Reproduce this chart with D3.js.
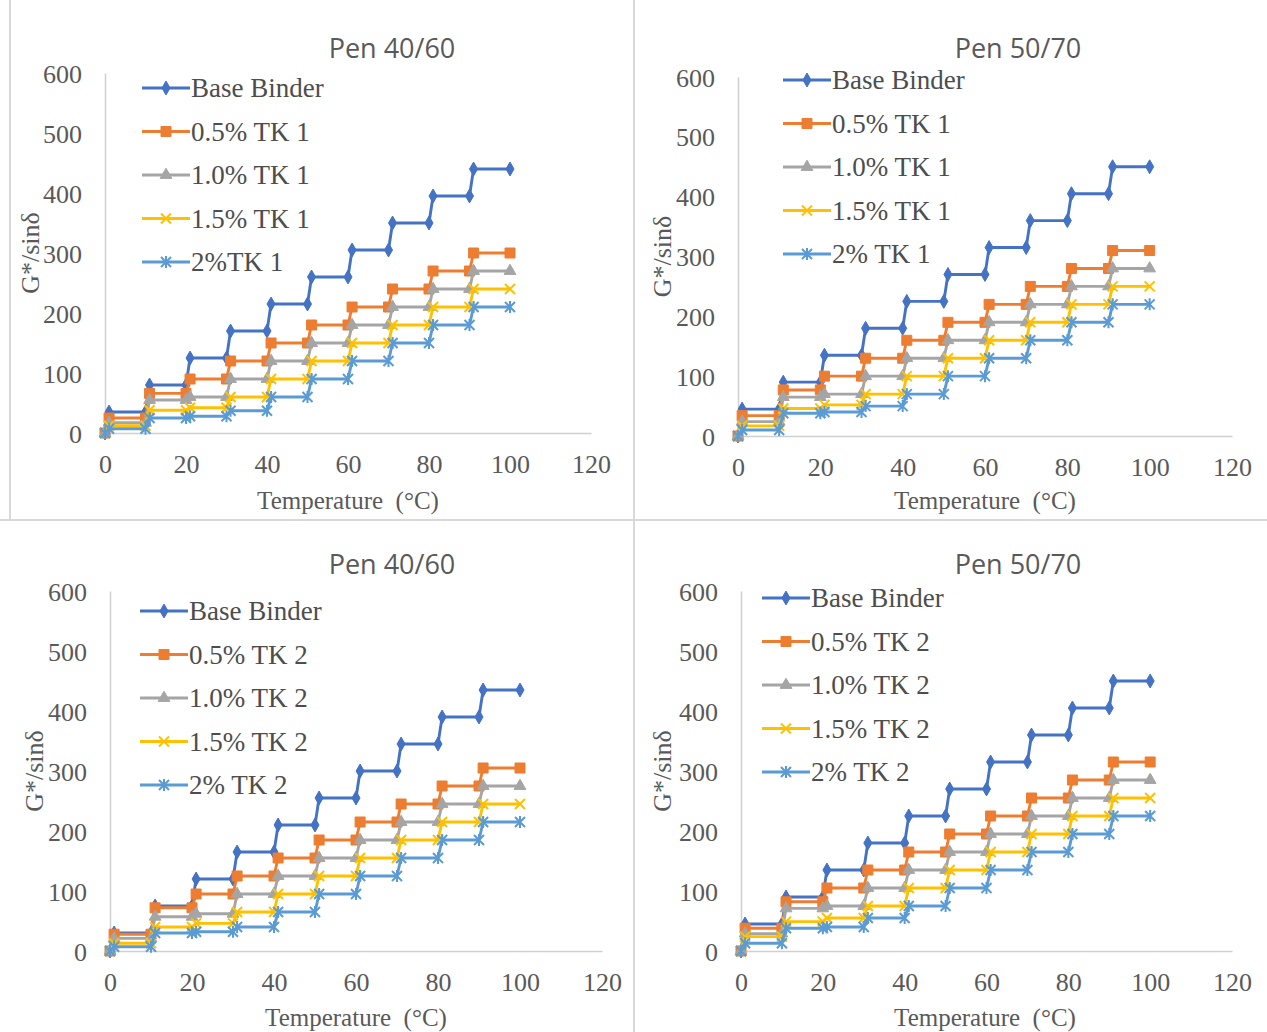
<!DOCTYPE html>
<html>
<head>
<meta charset="utf-8">
<script src="https://cdn.jsdelivr.net/npm/d3@7"></script>
<style>
  body { margin: 0; background: #fff; }
  svg { display: block; }
</style>
</head>
<body>
<svg id="chart" width="1267" height="1032"></svg>
<script>
// ---- data -------------------------------------------------------------
const temperatureTicks = [0, 20, 40, 60, 80, 100, 120];
const stiffnessTicks = [0, 100, 200, 300, 400, 500, 600];
// each level holds from its start temperature to the next 10 °C step
const levelStart = [0, 10, 20, 30, 40, 50, 60, 70, 80, 90];
const levelEnd = [10, 20, 30, 40, 50, 60, 70, 80, 90, 100];

const panelTitles = ["Pen 40/60", "Pen 50/70", "Pen 40/60", "Pen 50/70"];
const labelsPen4060TK1 = ["Base Binder", "0.5% TK 1", "1.0% TK 1", "1.5% TK 1", "2%TK 1"];
const labelsPen5070TK1 = ["Base Binder", "0.5% TK 1", "1.0% TK 1", "1.5% TK 1", "2% TK 1"];
const labelsTK2 = ["Base Binder", "0.5% TK 2", "1.0% TK 2", "1.5% TK 2", "2% TK 2"];

const pen4060TK1 = [
  [35, 80, 125, 170, 215, 260, 305, 350, 395, 440],
  [25, 66, 90, 120, 150, 180, 210, 240, 270, 300],
  [17, 55, 60, 90, 120, 150, 180, 210, 240, 270],
  [12, 38, 42, 60, 90, 120, 150, 180, 210, 240],
  [7, 25, 28, 37, 60, 90, 120, 150, 180, 210]
];
const pen5070TK1 = [
  [45, 90, 135, 180, 225, 270, 315, 360, 405, 450],
  [34, 77, 100, 130, 160, 190, 220, 250, 280, 310],
  [24, 65, 70, 100, 130, 160, 190, 220, 250, 280],
  [17, 46, 52, 70, 100, 130, 160, 190, 220, 250],
  [10, 38, 40, 50, 70, 100, 130, 160, 190, 220]
];
const pen4060TK2 = [
  [30, 75, 120, 165, 210, 255, 300, 345, 390, 435],
  [28, 72, 95, 125, 155, 185, 215, 245, 275, 305],
  [21, 57, 62, 95, 125, 155, 185, 215, 245, 275],
  [13, 40, 46, 65, 95, 125, 155, 185, 215, 245],
  [7, 30, 32, 40, 65, 95, 125, 155, 185, 215]
];
const pen5070TK2 = [
  [45, 90, 135, 180, 225, 270, 315, 360, 405, 450],
  [38, 82, 105, 135, 165, 195, 225, 255, 285, 315],
  [29, 71, 75, 105, 135, 165, 195, 225, 255, 285],
  [24, 49, 55, 75, 105, 135, 165, 195, 225, 255],
  [13, 38, 40, 55, 75, 105, 135, 165, 195, 225]
];

// ---- styling ----------------------------------------------------------
const seriesColors = ["#4472C4", "#ED7D31", "#A5A5A5", "#FFC000", "#5B9BD5"];
const textColor = "#595959";
const legendTextColor = "#4d4d4d";
const axisColor = "#d0d0d0";
const serif = "'Liberation Serif', 'Times New Roman', serif";
const sans = "'Open Sans', 'Noto Sans', sans-serif";

// marker shapes: diamond, square, triangle, x, asterisk
function markerPath(kind) {
  switch (kind) {
    case 0: return d3.symbol(d3.symbolDiamond, 56)();
    case 1: return d3.symbol(d3.symbolSquare, 100)();
    case 2: return d3.symbol(d3.symbolTriangle, 60)();
    case 3: return "M-5,-5L5,5M-5,5L5,-5";
    default: return "M-5,-5L5,5M-5,5L5,-5M0,-6L0,6";
  }
}
const strokeMarker = k => k >= 3;

// ---- layout of the four panels ---------------------------------------
const panels = [
  { title: panelTitles[0], labels: labelsPen4060TK1, data: pen4060TK1,
    x0: 105, x1: 591, y0: 433, y1: 73, titleX: 392, titleY: 58,
    legX: 142, legY: 88, yLabX: 30, xLabX: 348, xLabY: 509, tickY: 473 },
  { title: panelTitles[1], labels: labelsPen5070TK1, data: pen5070TK1,
    x0: 738, x1: 1232, y0: 436, y1: 77, titleX: 1018, titleY: 58,
    legX: 783, legY: 80, yLabX: 662, xLabX: 985, xLabY: 509, tickY: 476 },
  { title: panelTitles[2], labels: labelsTK2, data: pen4060TK2,
    x0: 110, x1: 602, y0: 951, y1: 591, titleX: 392, titleY: 574,
    legX: 140, legY: 611, yLabX: 34, xLabX: 356, xLabY: 1026, tickY: 991 },
  { title: panelTitles[3], labels: labelsTK2, data: pen5070TK2,
    x0: 741, x1: 1232, y0: 951, y1: 591, titleX: 1018, titleY: 574,
    legX: 762, legY: 598, yLabX: 662, xLabX: 985, xLabY: 1026, tickY: 991 }
];

const svg = d3.select("#chart");
svg.append("rect").attr("width", 1267).attr("height", 1032).attr("fill", "#fff");

// panel frames
const frame = svg.append("g").attr("stroke", "#d9d9d9").attr("stroke-width", 2).attr("fill", "none");
frame.append("line").attr("x1", 634).attr("x2", 634).attr("y1", 0).attr("y2", 1032);
frame.append("line").attr("x1", 0).attr("x2", 1267).attr("y1", 520).attr("y2", 520);
frame.append("line").attr("x1", 10).attr("x2", 10).attr("y1", 0).attr("y2", 520);

function stepPoints(values) {
  const pts = [[0, 0]];
  values.forEach((v, i) => {
    pts.push([levelStart[i] + 1, v]);
    pts.push([levelEnd[i], v]);
  });
  return pts;
}

panels.forEach(p => {
  const x = d3.scaleLinear().domain([0, 120]).range([p.x0, p.x1]);
  const y = d3.scaleLinear().domain([0, 600]).range([p.y0, p.y1]);
  const g = svg.append("g");

  // axes
  const xAxis = g.append("g").attr("transform", `translate(0,${p.y0})`)
    .call(d3.axisBottom(x).tickValues(temperatureTicks).tickSize(0).tickPadding(0));
  xAxis.select(".domain").attr("stroke", axisColor).attr("stroke-width", 1.5);
  xAxis.selectAll("text").attr("y", p.tickY - p.y0).attr("dy", null)
    .attr("fill", textColor).style("font-family", serif).style("font-size", "26px");

  const yAxis = g.append("g").attr("transform", `translate(${p.x0},0)`)
    .call(d3.axisLeft(y).tickValues(stiffnessTicks).tickSize(0).tickPadding(23));
  yAxis.select(".domain").attr("stroke", axisColor).attr("stroke-width", 1.5);
  yAxis.selectAll("text").attr("dy", "0.35em")
    .attr("fill", textColor).style("font-family", serif).style("font-size", "26px");

  // titles
  g.append("text").attr("x", p.titleX).attr("y", p.titleY).attr("text-anchor", "middle")
    .attr("fill", textColor).style("font-family", sans).style("font-size", "27px")
    .text(p.title);
  g.append("text").attr("x", p.xLabX).attr("y", p.xLabY).attr("text-anchor", "middle")
    .attr("fill", textColor).style("font-family", serif).style("font-size", "25px")
    .attr("xml:space", "preserve")
    .text("Temperature  (°C)");
  g.append("text")
    .attr("transform", `translate(${p.yLabX},${(p.y0 + p.y1) / 2}) rotate(-90)`)
    .attr("dy", "0.35em").attr("text-anchor", "middle")
    .attr("fill", textColor).style("font-family", serif).style("font-size", "26px")
    .text("G*/sinδ");

  // series
  const line = d3.line().x(d => x(d[0])).y(d => y(d[1]));
  p.data.forEach((values, k) => {
    const pts = stepPoints(values);
    const sg = g.append("g");
    sg.append("path").attr("d", line(pts)).attr("fill", "none")
      .attr("stroke", seriesColors[k]).attr("stroke-width", 2.9)
      .attr("stroke-linejoin", "round");
    sg.selectAll("path.m").data(pts).join("path").attr("class", "m")
      .attr("transform", d => `translate(${x(d[0])},${y(d[1])})`)
      .attr("d", markerPath(k))
      .attr("fill", strokeMarker(k) ? "none" : seriesColors[k])
      .attr("stroke", seriesColors[k])
      .attr("stroke-width", strokeMarker(k) ? 2 : 1);
  });

  // legend
  const leg = g.append("g");
  p.labels.forEach((lab, k) => {
    const ly = p.legY + k * 43.5;
    leg.append("line").attr("x1", p.legX).attr("x2", p.legX + 48)
      .attr("y1", ly).attr("y2", ly)
      .attr("stroke", seriesColors[k]).attr("stroke-width", 2.9);
    leg.append("path").attr("transform", `translate(${p.legX + 24},${ly})`)
      .attr("d", markerPath(k))
      .attr("fill", strokeMarker(k) ? "none" : seriesColors[k])
      .attr("stroke", seriesColors[k])
      .attr("stroke-width", strokeMarker(k) ? 2 : 1);
    leg.append("text").attr("x", p.legX + 49).attr("y", ly).attr("dy", "0.35em")
      .attr("fill", legendTextColor).style("font-family", serif).style("font-size", "27px")
      .text(lab);
  });
});
</script>
</body>
</html>
